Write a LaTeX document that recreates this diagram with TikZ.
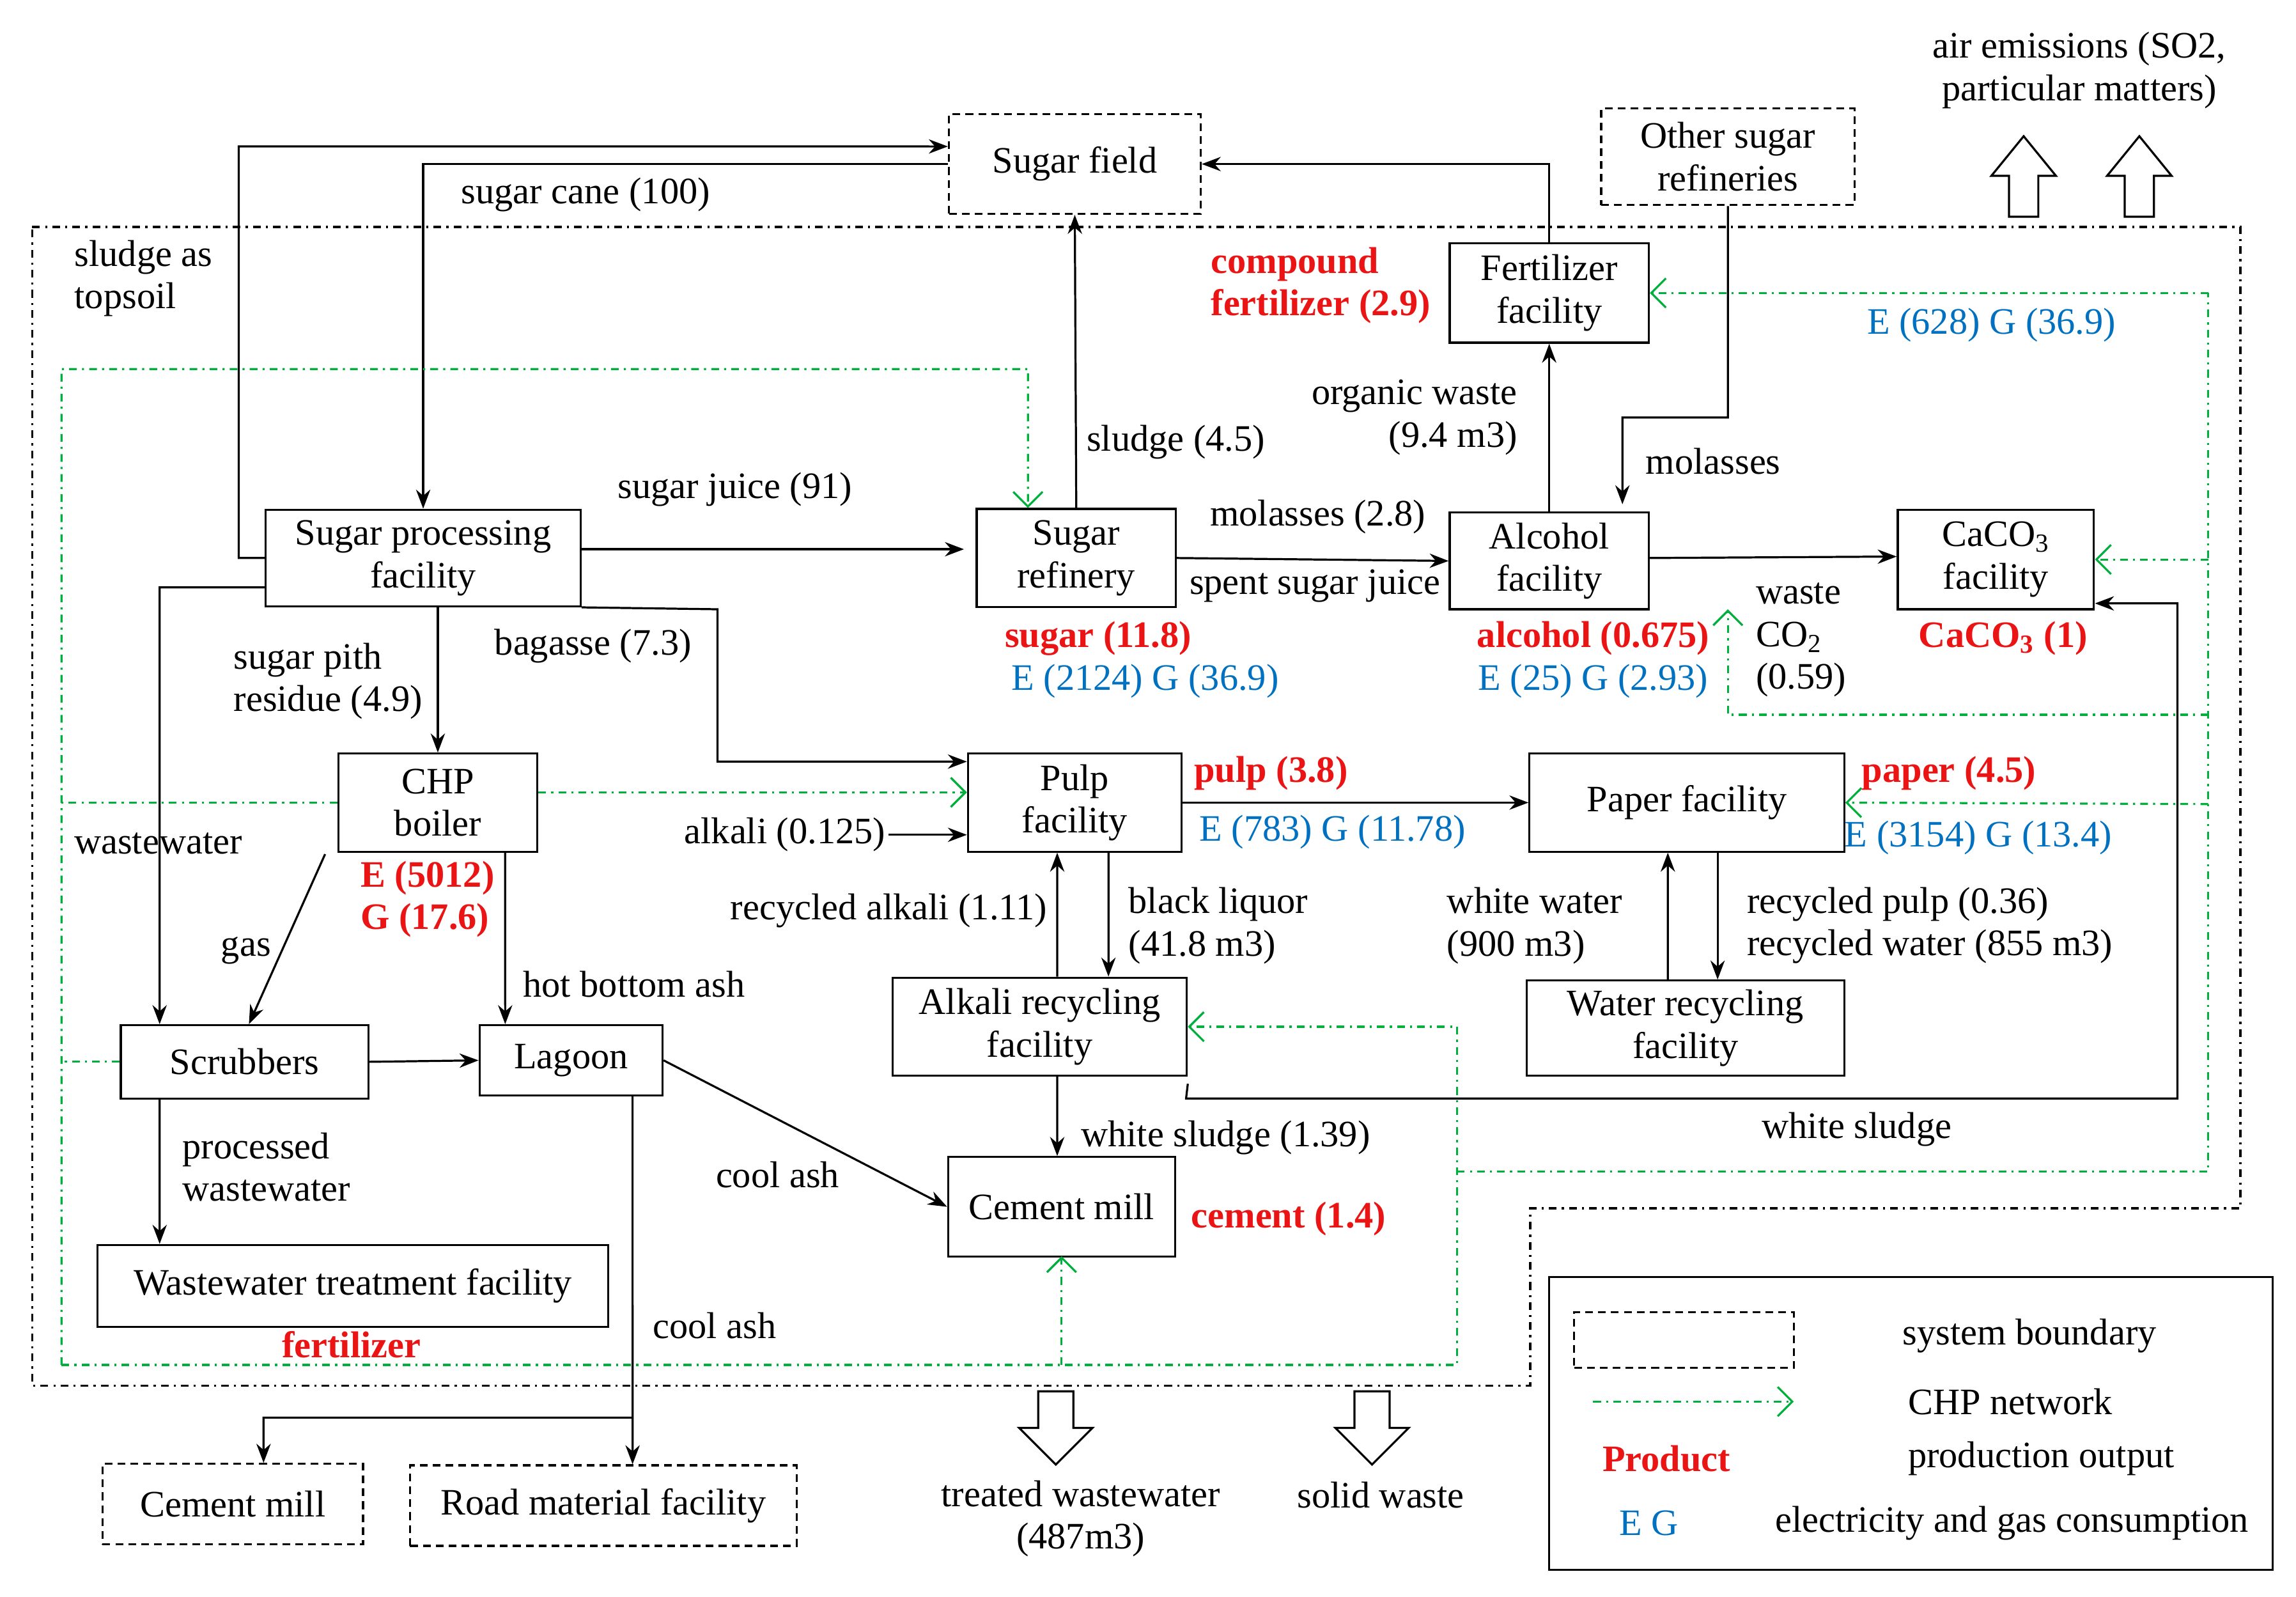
\documentclass[tikz,border=0pt]{standalone}
\usepackage{fontspec}
\setmainfont{Liberation Serif}
\usetikzlibrary{arrows.meta}
\definecolor{prodred}{RGB}{235,20,20}
\definecolor{egblue}{RGB}{0,112,192}
\definecolor{chpgreen}{RGB}{0,175,60}
\begin{document}
\begin{tikzpicture}
      [x=0.02cm,y=-0.02cm
      ,font=\fontsize{14.5}{16.5}\selectfont
      ,box/.style={draw,thick,align=center,inner sep=0pt}
      ,dbox/.style={box,densely dashed}
      ,lbl/.style={align=center,inner sep=1pt}
      ,prod/.style={lbl,text=prodred,font=\fontsize{14.5}{16.5}\selectfont\bfseries}
      ,eg/.style={lbl,text=egblue}
      ,arr/.style={thick,-{Stealth[length=2.6mm]}}
      ,chp/.style={thick,chpgreen,dash dot}
      ,chparr/.style={chp,-{Straight Barb[length=2mm]}}
      ,bound/.style={thick,dash dot}
      ,hollow/.style={thick,fill=white}
      ]
        \useasboundingbox (0,0) rectangle (1568,1090);
        % system boundary
        \draw[bound] (22,155) -- (1530,155) -- (1530,825) -- (1045,825) -- (1045,946) -- (22,946) -- cycle;

        % facilities
        \node[dbox,minimum width=3.44cm,minimum height=1.36cm] (field) at (734,112) {Sugar field};
        \node[dbox,minimum width=3.46cm,minimum height=1.32cm] (other) at (1180,107) {Other sugar\\refineries};
        \node[box,minimum width=2.72cm,minimum height=1.36cm] (fert) at (1058,200) {Fertilizer\\facility};
        \node[box,minimum width=4.3cm,minimum height=1.32cm] (spf) at (289,381) {Sugar processing\\facility};
        \node[box,minimum width=2.72cm,minimum height=1.34cm] (sref) at (735,381) {Sugar\\refinery};
        \node[box,minimum width=2.72cm,minimum height=1.32cm] (alc) at (1058,383) {Alcohol\\facility};
        \node[box,minimum width=2.68cm,minimum height=1.36cm] (caco) at (1363,382) {CaCO\textsubscript{3}\\facility};
        \node[box,minimum width=2.72cm,minimum height=1.34cm] (boiler) at (299,548) {CHP\\boiler};
        \node[box,minimum width=2.92cm,minimum height=1.34cm] (pulp) at (734,548) {Pulp\\facility};
        \node[box,minimum width=4.3cm,minimum height=1.34cm] (paper) at (1152,548) {Paper facility};
        \node[box,minimum width=4.02cm,minimum height=1.34cm] (alkali) at (710,701) {Alkali recycling\\facility};
        \node[box,minimum width=4.34cm,minimum height=1.3cm] (water) at (1151,702) {Water recycling\\facility};
        \node[box,minimum width=3.38cm,minimum height=1cm] (scrub) at (167,725) {Scrubbers};
        \node[box,minimum width=2.5cm,minimum height=0.96cm] (lagoon) at (390,724) {Lagoon};
        \node[box,minimum width=3.1cm,minimum height=1.36cm] (cement) at (725,824) {Cement mill};
        \node[box,minimum width=6.98cm,minimum height=1.12cm] (wwt) at (241,878) {Wastewater treatment facility};
        \node[dbox,minimum width=3.56cm,minimum height=1.1cm] (cement2) at (159,1027) {Cement mill};
        \node[dbox,minimum width=5.28cm,minimum height=1.1cm] (road) at (412,1028) {Road material facility};

        % material flows
        \draw[arr] (spf.west) -- (163,381) -- (163,100) -- ([yshift=0.24cm]field.west);
        \draw[arr] (field.west) -- (289,112) -- (spf.north);
        \draw[arr] ([yshift=0.12cm]spf.east) -- ([yshift=0.12cm,xshift=-0.16cm]sref.west);
        \draw[arr] (sref.north) -- (field.south);
        \draw[arr] (fert.north) -- (1058,112) -- (field.east);
        \draw[arr] (alc.north) -- (fert.south);
        \draw[arr] (other.south) -- (1180,285) -- (1108,285) -- ([xshift=1cm,yshift=0.1cm]alc.north);
        \draw[arr] (sref.east) -- (alc.west);
        \draw[arr] ([yshift=0.04cm]alc.east) -- ([yshift=0.04cm]caco.west);
        \draw[arr] ([yshift=-0.4cm]spf.west) -- (109,401) -- ([xshift=-1.16cm]scrub.north);
        \draw[arr] (spf.south -| boiler.north) -- (boiler.north);
        \draw[arr] (spf.south east) -- (490,416) -- (490,520) -- ([yshift=0.56cm]pulp.west);
        \node[lbl] (alk) at (536,570) {alkali (0.125)};
        \draw[arr] (alk.east) -- (pulp.west |- alk.east);
        \draw[arr] (pulp.east) -- (paper.west);
        \draw[arr] ([xshift=0.24cm]alkali.north) -- ([xshift=-0.24cm]pulp.south);
        \draw[arr] ([xshift=0.46cm]pulp.south) -- ([xshift=0.94cm]alkali.north);
        \draw[arr] ([xshift=-0.24cm]water.north) -- ([xshift=-0.26cm]paper.south);
        \draw[arr] ([xshift=0.42cm]paper.south) -- ([xshift=0.44cm]water.north);
        \draw[arr] ([xshift=-1.54cm,yshift=-0.02cm]boiler.south) -- ([xshift=0.06cm]scrub.north);
        \draw[arr] ([xshift=0.92cm]boiler.south) -- ([xshift=-0.9cm]lagoon.north);
        \draw[arr] (scrub.east) -- (lagoon.west);
        \draw[arr] (lagoon.east) -- (cement.west);
        \draw[arr] ([xshift=0.24cm]alkali.south) -- ([xshift=-0.06cm]cement.north);
        \draw[arr] ([yshift=-0.78cm]alkali.east) -- (810,750) -- (1487,750) -- (1487,412) -- ([yshift=-0.6cm]caco.east);
        \draw[arr] ([xshift=-1.16cm]scrub.south) -- ([xshift=-2.64cm]wwt.north);
        \draw[arr] ([xshift=0.84cm]lagoon.south) -- (432,968) -- ([xshift=0.4cm]road.north);
        \draw[arr] (432,968) -- (180,968) -- ([xshift=0.42cm]cement2.north);

        % CHP network
        \draw[chparr] ([yshift=0.14cm]boiler.east) -- ([yshift=0.14cm]pulp.west);
        \draw[chp] (boiler.west) -- (42,548);
        \draw[chp] (scrub.west) -- (42,725);
        \draw[chparr] (42,932) -- (42,252) -- (702,252) -- ([xshift=-0.66cm]sref.north);
        \draw[chparr] (42,932) -- (995,932) -- (995,701) -- (alkali.east);
        \draw[chparr] (725,932) -- ([yshift=0.02cm]cement.south);
        \draw[chp] (995,800) -- (1508,800) -- (1508,200);
        \draw[chparr] (1508,200) -- (fert.east);
        \draw[chparr] (1508,382) -- (caco.east);
        \draw[chparr] (1508,549) -- (paper.east);
        \draw[chparr] (1508,488) -- (1180,488) -- (1180,416);

        % flow labels
        \node[lbl] (lcane) at (400,133) {sugar cane (100)};
        \node[lbl,align=left] (ltop) at (98,190) {sludge as\\topsoil};
        \node[lbl] (ljuice) at (502,334) {sugar juice (91)};
        \node[lbl] (lsludge) at (803,302) {sludge (4.5)};
        \node[lbl,align=right] (lorg) at (966,285) {organic waste\\\hspace*{2em}(9.4 m3)};
        \node[lbl] (lmol) at (1170,315) {molasses};
        \node[lbl] (lmol2) at (900,353) {molasses (2.8)};
        \node[lbl] (lspent) at (898,400) {spent sugar juice};
        \node[lbl,align=left] (lco) at (1230,437) {waste\\CO\textsubscript{2}\\(0.59)};
        \node[lbl,align=left] (lpith) at (224,465) {sugar pith\\residue (4.9)};
        \node[lbl] (lbag) at (405,441) {bagasse (7.3)};
        \node[lbl] (lww) at (108,576) {wastewater};
        \node[lbl] (lrecalk) at (607,622) {recycled alkali (1.11)};
        \node[lbl,align=left] (lblack) at (832,632) {black liquor\\(41.8 m3)};
        \node[lbl,align=left] (lwhite) at (1048,632) {white water\\(900 m3)};
        \node[lbl,align=left] (lrecp) at (1318,632) {recycled pulp (0.36)\\recycled water (855 m3)};
        \node[lbl] (lgas) at (168,649) {gas};
        \node[lbl] (lhot) at (433,672) {hot bottom ash};
        \node[lbl] (lws) at (837,777) {white sludge (1.39)};
        \node[lbl] (lws2) at (1268,771) {white sludge};
        \node[lbl] (lcool) at (531,802) {cool ash};
        \node[lbl,align=left] (lproc) at (182,797) {processed\\wastewater};
        \node[lbl] (lcool2) at (488,905) {cool ash};
        \node[lbl] (lair) at (1420,48) {air emissions (SO2,\\particular matters)};
        \node[lbl] (ltreat) at (738,1037) {treated wastewater\\(487m3)};
        \node[lbl] (lsolid) at (943,1021) {solid waste};

        % products and consumption
        \node[prod,align=left] (pfert) at (902,195) {compound\\fertilizer (2.9)};
        \node[eg] (efert) at (1360,222) {E (628) G (36.9)};
        \node[prod] (psugar) at (750,436) {sugar (11.8)};
        \node[eg] (esugar) at (782,465) {E (2124) G (36.9)};
        \node[prod] (palc) at (1088,436) {alcohol (0.675)};
        \node[eg] (ealc) at (1088,465) {E (25) G (2.93)};
        \node[prod] (pcaco) at (1368,436) {CaCO\textsubscript{3} (1)};
        \node[prod] (ppulp) at (868,528) {pulp (3.8)};
        \node[eg] (epulp) at (910,568) {E (783) G (11.78)};
        \node[prod] (ppaper) at (1331,528) {paper (4.5)};
        \node[eg] (epaper) at (1351,572) {E (3154) G (13.4)};
        \node[prod,align=left] (pchp) at (292,614) {E (5012)\\G (17.6)};
        \node[prod] (pcement) at (880,832) {cement (1.4)};
        \node[prod] (pwwt) at (240,918) {fertilizer};

        % emission arrows
        \foreach \ex in {1382,1461}
            \draw[hollow] (\ex-10,148) -- (\ex-10,120) -- (\ex-22,120) -- (\ex,93) -- (\ex+22,120) -- (\ex+10,120) -- (\ex+10,148) -- cycle;
        \foreach \ex in {721,937}
            \draw[hollow] (\ex-12,950) -- (\ex-12,975) -- (\ex-25,975) -- (\ex,1000) -- (\ex+25,975) -- (\ex+12,975) -- (\ex+12,950) -- cycle;

        % legend
        \draw[thick] (1058,872) rectangle (1552,1072);
        \node[dbox,minimum width=3cm,minimum height=0.76cm] (legb) at (1150,915) {};
        \node[lbl] (legbt) at (1386,912) {system boundary};
        \coordinate (legc1) at (1088,957);
        \coordinate (legc2) at (1225,957);
        \draw[chparr] (legc1) -- (legc2);
        \node[lbl] (legct) at (1373,957) {CHP network};
        \node[prod] (legp) at (1138,996) {Product};
        \node[lbl] (legpt) at (1394,996) {production output};
        \node[eg] (lege) at (1126,1040) {E G};
        \node[lbl] (leget) at (1374,1040) {electricity and gas consumption};
\end{tikzpicture}
\end{document}
